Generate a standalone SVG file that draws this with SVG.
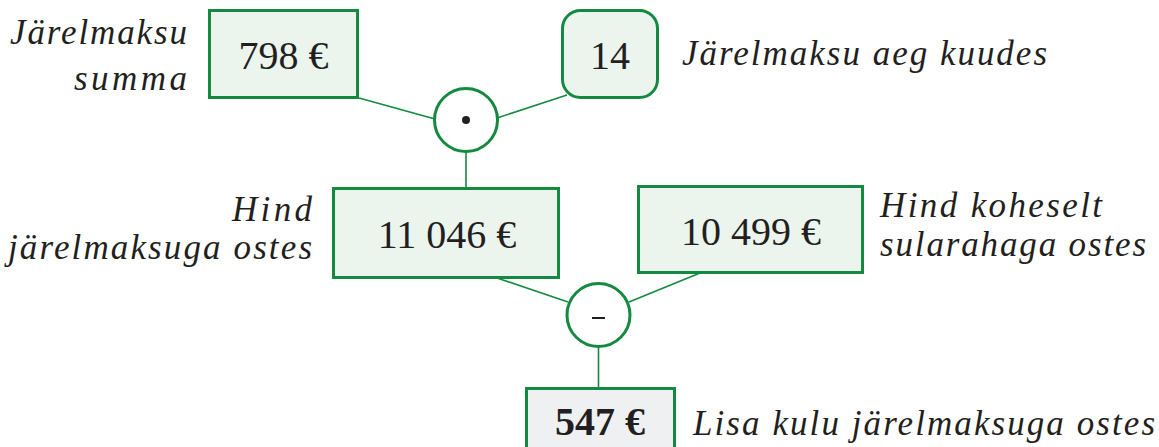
<svg xmlns="http://www.w3.org/2000/svg" width="1159" height="447" viewBox="0 0 1159 447" font-family="'Liberation Serif', 'Times New Roman', serif">
<style>
.box{fill:#ebf5ee;stroke:#138a3f;stroke-width:3}
.res{fill:#eff0f2;stroke:#138a3f;stroke-width:3}
.op{fill:#ffffff;stroke:#138a3f;stroke-width:3}
.ln{stroke:#138a3f;stroke-width:1.6;fill:none}
.num{font-family:'Liberation Serif',serif;font-size:40px;fill:#231f20;text-anchor:middle}
.lab{font-family:'Liberation Serif',serif;font-style:italic;font-size:35px;fill:#231f20}
</style>
<rect width="1159" height="447" fill="#ffffff"/>
<g id="connectors">
<line class="ln" x1="359" y1="98" x2="435" y2="119"/>
<line class="ln" x1="567" y1="95" x2="497" y2="118"/>
<line class="ln" x1="466" y1="152" x2="466" y2="188"/>
<line class="ln" x1="497" y1="278" x2="568" y2="302"/>
<line class="ln" x1="700" y1="273" x2="629" y2="302"/>
<line class="ln" x1="598.5" y1="347" x2="598.5" y2="388"/>
</g>
<g id="n798">
<rect class="box" x="209.5" y="10.5" width="148" height="87"/>
<text class="num" x="283.5" y="69">798 €</text>
<text class="lab" x="187" y="44" text-anchor="end" textLength="177">Järelmaksu</text>
<text class="lab" x="187" y="90" text-anchor="end" textLength="113">summa</text>
</g>
<g id="n14">
<rect class="box" x="562.5" y="10.5" width="95" height="87" rx="18"/>
<text class="num" x="610" y="69">14</text>
<text class="lab" x="682" y="65" textLength="365">Järelmaksu aeg kuudes</text>
</g>
<g id="mul">
<circle class="op" cx="466" cy="120" r="31.5"/>
<circle cx="466" cy="120" r="4" fill="#231f20"/>
</g>
<g id="n11046">
<rect class="box" x="333.5" y="188.5" width="225" height="89"/>
<text class="num" x="447" y="248">11 046 €</text>
<text class="lab" x="312" y="221" text-anchor="end" textLength="80">Hind</text>
<text class="lab" x="312" y="259" text-anchor="end" textLength="304">järelmaksuga ostes</text>
</g>
<g id="n10499">
<rect class="box" x="638.5" y="186.5" width="224" height="86"/>
<text class="num" x="751" y="245">10 499 €</text>
<text class="lab" x="880" y="217" textLength="222">Hind koheselt</text>
<text class="lab" x="880" y="256" textLength="266">sularahaga ostes</text>
</g>
<g id="sub">
<circle class="op" cx="598.5" cy="315" r="31.5"/>
<line x1="592" y1="318" x2="605" y2="318" stroke="#231f20" stroke-width="2"/>
</g>
<g id="n547">
<rect class="res" x="526.5" y="388.5" width="148" height="70"/>
<text class="num" x="600" y="435" font-weight="bold">547 €</text>
<text class="lab" x="693" y="435" textLength="462">Lisa kulu järelmaksuga ostes</text>
</g>
</svg>
